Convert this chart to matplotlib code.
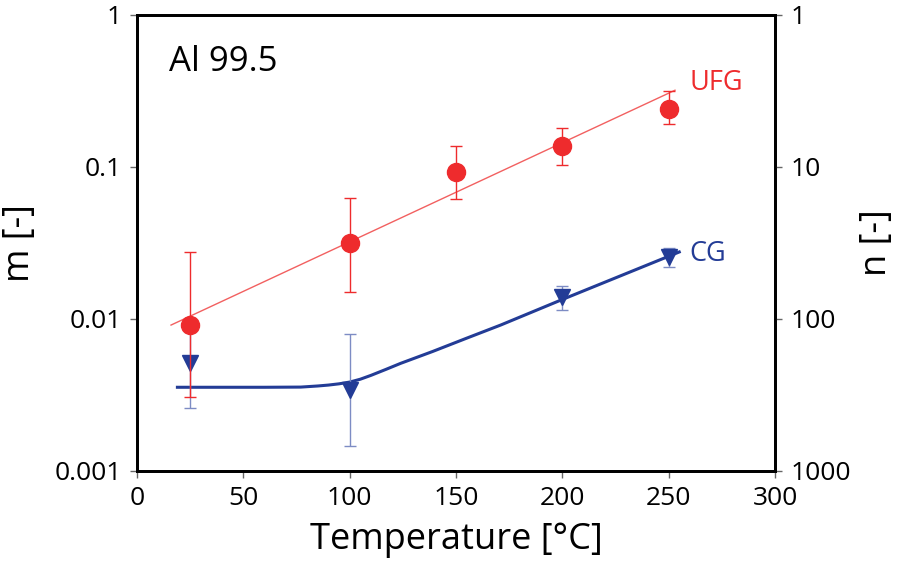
import matplotlib
matplotlib.use("Agg")
import matplotlib.pyplot as plt

plt.rcParams['font.family'] = ['Open Sans', 'DejaVu Sans']

# UFG data
ufg_T = [25, 100, 150, 200, 250]
ufg_m = [0.0091, 0.0317, 0.092, 0.137, 0.241]
ufg_err_hi = [0.0274, 0.062, 0.137, 0.18, 0.315]
ufg_err_lo = [0.00305, 0.015, 0.061, 0.103, 0.19]
ufg_fit_T = [16, 253]
ufg_fit_m = [0.0091, 0.318]

# CG data
cg_T = [25, 100, 200, 250]
cg_m = [0.0051, 0.0034, 0.0140, 0.0254]
cg_err_hi = [0.0085, 0.0080, 0.0164, 0.029]
cg_err_lo = [0.0026, 0.00147, 0.0114, 0.0219]
cg_fit_T = [19, 60, 77, 85, 90, 95, 100, 105, 110, 117, 124, 139, 155, 171, 200, 255]
cg_fit_m = [0.00355, 0.00355, 0.00356, 0.00362, 0.00367, 0.00374, 0.00384, 0.00401,
            0.00425, 0.00465, 0.0051, 0.0061, 0.00746, 0.0091, 0.0134, 0.0275]

x_ticks = [0, 50, 100, 150, 200, 250, 300]
m_ticks = [0.001, 0.01, 0.1, 1]
m_labels = ['0.001', '0.01', '0.1', '1']
n_ticks = [1, 10, 100, 1000]
n_labels = ['1', '10', '100', '1000']

red = '#EE2B2D'
red_line = '#F26060'
blue = '#233C96'
blue_err = '#7D8CC4'

fig = plt.figure(figsize=(8.99, 5.76), dpi=100)
ax = fig.add_axes([0.1524, 0.1823, 0.7096, 0.7925])

ax.plot(ufg_fit_T, ufg_fit_m, color=red_line, lw=1.0, zorder=2)
ax.plot(cg_fit_T, cg_fit_m, color=blue, lw=2.2, zorder=2, solid_joinstyle='round')

ue = [[m - lo for m, lo in zip(ufg_m, ufg_err_lo)], [hi - m for m, hi in zip(ufg_m, ufg_err_hi)]]
ce = [[m - lo for m, lo in zip(cg_m, cg_err_lo)], [hi - m for m, hi in zip(cg_m, cg_err_hi)]]

ax.errorbar(cg_T, cg_m, yerr=ce, fmt='v', color=blue, ecolor=blue_err, elinewidth=1.0,
            capsize=4.5, capthick=1.0, markersize=12, zorder=3)
ax.errorbar(ufg_T, ufg_m, yerr=ue, fmt='o', color=red, ecolor=red, elinewidth=1.0,
            capsize=4.5, capthick=1.0, markersize=13, zorder=4)

ax.set_yscale('log')
ax.set_xlim(0, 300)
ax.set_ylim(0.001, 1)
ax.set_xticks(x_ticks)
ax.set_xticklabels([str(t) for t in x_ticks])
ax.set_yticks(m_ticks)
ax.set_yticklabels(m_labels)
ax.minorticks_off()
ax.tick_params(axis='both', labelsize=19, length=5, width=1, color='#666666', pad=6)
ax.set_xlabel('Temperature [°C]', fontsize=26, labelpad=8)
ax.set_ylabel('m [-]', fontsize=26, labelpad=12)
for s in ax.spines.values():
    s.set_linewidth(2)

ax2 = ax.twinx()
ax2.set_yscale('log')
ax2.set_ylim(1000, 1)
ax2.set_yticks(n_ticks)
ax2.set_yticklabels(n_labels)
ax2.minorticks_off()
ax2.tick_params(axis='y', labelsize=19, length=5, width=1, color='#666666', pad=6)
ax2.set_ylabel('n [-]', fontsize=26, labelpad=6)
for s in ax2.spines.values():
    s.set_linewidth(2)

ax.text(0.05, 0.895, 'Al 99.5', transform=ax.transAxes, fontsize=25, va='center', ha='left')
ax.text(0.866, 0.85, 'UFG', transform=ax.transAxes, fontsize=19.5, color=red, va='center', ha='left')
ax.text(0.866, 0.475, 'CG', transform=ax.transAxes, fontsize=19.5, color=blue, va='center', ha='left')

fig.savefig('out.png', dpi=100)
